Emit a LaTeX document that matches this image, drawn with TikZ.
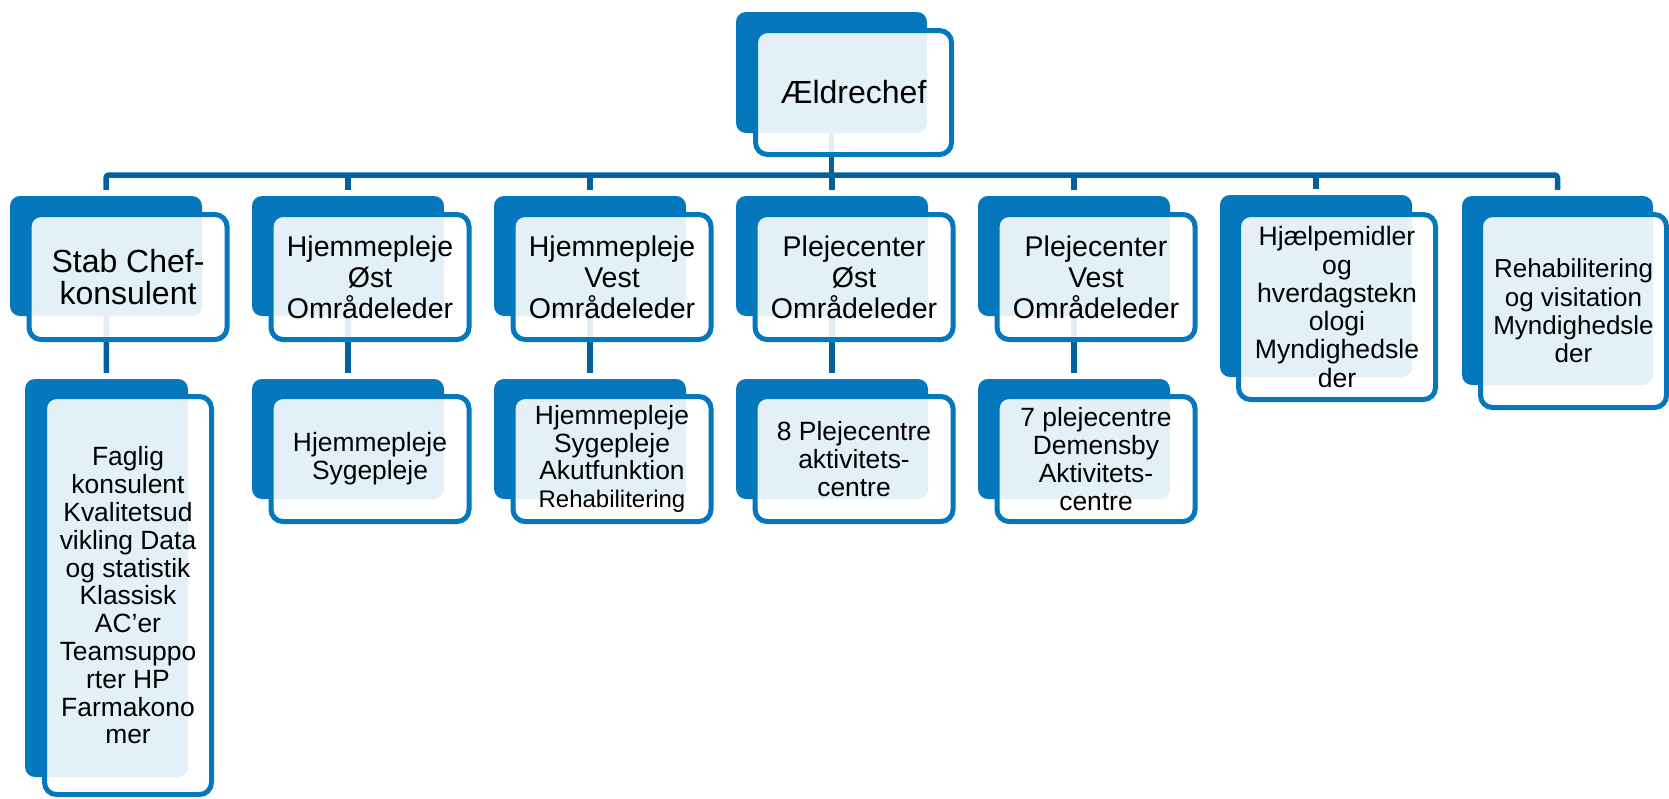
\documentclass[tikz,border=0pt]{standalone}
\usepackage{fontspec}
\setmainfont{Liberation Sans}
\pgfdeclarelayer{bg}
\pgfsetlayers{bg,main}
\definecolor{boxblue}{HTML}{0477BD}
\definecolor{linkblue}{HTML}{02629E}
\begin{document}
\begin{tikzpicture}[x=1pt,y=-1pt,
  backbox/.style={rectangle, rounded corners=10pt, fill=boxblue, inner sep=0pt},
  frontbox/.style={rectangle, rounded corners=12pt, draw=boxblue, line width=5pt,
    fill=white, fill opacity=0.89, text opacity=1, align=center, inner sep=0pt, text=black},
  link/.style={draw=linkblue, line width=5.5pt},
  fbig/.style={font=\fontsize{32}{32}\selectfont},
  fmid/.style={font=\fontsize{28.5}{31}\selectfont},
  fsmall/.style={font=\fontsize{26.4}{27.8}\selectfont}]
\useasboundingbox (0,0) rectangle (1669,798);

% level 1
\node[backbox, minimum width=191pt, minimum height=121pt] (b0) at (831.5,72.5) {};
\node[frontbox, fbig, minimum width=196pt, minimum height=124pt] (f0) at (853.5,92.5) {Ældrechef};

% level 2 backs
\node[backbox, minimum width=192pt, minimum height=120pt] (b1) at (106,256) {};
\node[frontbox, fbig, minimum width=198pt, minimum height=125pt] (f1) at (128,277) {Stab Chef-\\konsulent};

\node[backbox, minimum width=192pt, minimum height=120pt] (b2) at (348,256) {};
\node[frontbox, fmid, minimum width=198pt, minimum height=125pt] (f2) at (370,277) {Hjemmepleje\\Øst\\Områdeleder};

\node[backbox, minimum width=192pt, minimum height=120pt] (b3) at (590,256) {};
\node[frontbox, fmid, minimum width=198pt, minimum height=125pt] (f3) at (612,277) {Hjemmepleje\\Vest\\Områdeleder};

\node[backbox, minimum width=192pt, minimum height=120pt] (b4) at (832,256) {};
\node[frontbox, fmid, minimum width=198pt, minimum height=125pt] (f4) at (854,277) {Plejecenter\\Øst\\Områdeleder};

\node[backbox, minimum width=192pt, minimum height=120pt] (b5) at (1074,256) {};
\node[frontbox, fmid, minimum width=198pt, minimum height=125pt] (f5) at (1096,277) {Plejecenter\\Vest\\Områdeleder};

\node[backbox, minimum width=192pt, minimum height=182pt] (b6) at (1316,286) {};
\node[frontbox, font=\fontsize{26.6}{28.3}\selectfont, minimum width=197pt, minimum height=185pt] (f6) at (1337,307) {Hjælpemidler\\og\\hverdagstekn\\ologi\\Myndighedsle\\der};

\node[backbox, minimum width=191pt, minimum height=189pt] (b7) at (1557.5,290.5) {};
\node[frontbox, font=\fontsize{26}{28.3}\selectfont, minimum width=186pt, minimum height=193pt] (f7) at (1573.5,311) {Rehabilitering\\og visitation\\Myndighedsle\\der};

% level 3
\node[backbox, minimum width=163pt, minimum height=398pt] (c1) at (106.5,578) {};
\node[frontbox, fsmall, minimum width=167pt, minimum height=398pt] (g1) at (128,595.5) {Faglig\\konsulent\\Kvalitetsud\\vikling Data\\og statistik\\Klassisk\\AC’er\\Teamsuppo\\rter HP\\Farmakono\\mer};

\node[backbox, minimum width=192pt, minimum height=120pt] (c2) at (348,439) {};
\node[frontbox, fsmall, minimum width=198pt, minimum height=125pt] (g2) at (370,459) {Hjemmepleje\\Sygepleje};

\node[backbox, minimum width=192pt, minimum height=120pt] (c3) at (590,439) {};
\node[frontbox, fsmall, minimum width=198pt, minimum height=125pt] (g3) at (612,459) {Hjemmepleje\\Sygepleje\\Akutfunktion\\{\fontsize{24}{27}\selectfont Rehabilitering}};

\node[backbox, minimum width=192pt, minimum height=120pt] (c4) at (832,439) {};
\node[frontbox, fsmall, minimum width=198pt, minimum height=125pt] (g4) at (854,459) {8 Plejecentre\\aktivitets-\\centre};

\node[backbox, minimum width=192pt, minimum height=120pt] (c5) at (1074,439) {};
\node[frontbox, fsmall, minimum width=198pt, minimum height=125pt] (g5) at (1096,459) {7 plejecentre\\Demensby\\Aktivitets-\\centre};

% connectors behind
\begin{pgfonlayer}{bg}
\coordinate (bus) at (0,175);
\draw[link] (b0.center) -- (b0.center |- bus);
\draw[link, rounded corners=3pt, shorten <=6pt, shorten >=6pt] (b1.north) |- (bus -| b7.north) -- (b7.north);
\foreach \n in {2,...,6} {\draw[link, shorten >=6pt] (b\n.north |- bus) -- (b\n.north);}
\foreach \n in {1,...,5} {\draw[link, shorten >=6pt] (b\n.center) -- (c\n.north);}
\end{pgfonlayer}
\end{tikzpicture}
\end{document}
